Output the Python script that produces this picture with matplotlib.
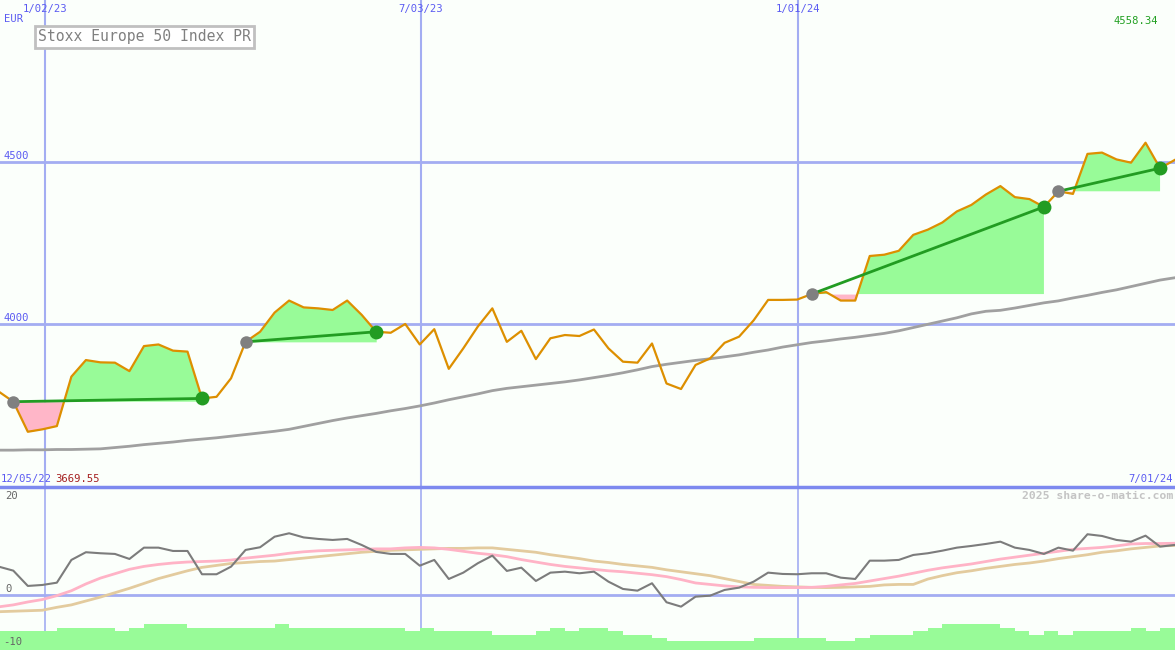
import matplotlib
matplotlib.use("Agg")
import matplotlib.pyplot as plt
from matplotlib.transforms import blended_transform_factory
import numpy as np

# weekly closes, Stoxx Europe 50 Index PR (EUR)
price = [3793, 3762, 3669.55, 3677, 3687, 3839, 3890, 3883, 3882, 3856,
         3933, 3938, 3919, 3916, 3772, 3777, 3834, 3946, 3977, 4036,
         4073, 4052, 4049, 4044, 4073, 4029, 3977, 3974, 4001, 3938,
         3985, 3863, 3926, 3993, 4049, 3946, 3980, 3893, 3957, 3967,
         3964, 3984, 3926, 3885, 3882, 3941, 3818, 3801, 3875, 3895,
         3943, 3962, 4012, 4075, 4075, 4076, 4093, 4099, 4073, 4073,
         4210, 4214, 4226, 4275, 4291, 4313, 4347, 4367, 4399, 4425,
         4391, 4385, 4361, 4409, 4401, 4524, 4528, 4507, 4497, 4558.34,
         4480, 4505]

# long moving average
ma_long = [3613, 3613, 3614, 3614, 3615, 3615, 3616, 3617, 3621, 3625,
           3630, 3634, 3638, 3643, 3647, 3651, 3656, 3661, 3666, 3671,
           3677, 3686, 3695, 3704, 3712, 3719, 3726, 3734, 3741, 3749,
           3758, 3768, 3777, 3786, 3796, 3803, 3808, 3813, 3818, 3823,
           3829, 3836, 3843, 3851, 3860, 3870, 3877, 3883, 3889, 3894,
           3900, 3906, 3914, 3921, 3930, 3937, 3944, 3949, 3955, 3960,
           3966, 3972, 3980, 3990, 4000, 4010, 4020, 4032, 4040, 4043,
           4050, 4058, 4066, 4072, 4081, 4089, 4098, 4106, 4116, 4126,
           4136, 4143]

# oscillator panel
osc = [5.75, 4.93, 1.79, 1.99, 2.46, 7.13, 8.71, 8.5, 8.36, 7.33,
       9.65, 9.65, 8.97, 8.97, 4.19, 4.19, 5.75, 9.18, 9.73, 11.9,
       12.6, 11.75, 11.44, 11.23, 11.44, 10.2, 8.77, 8.36, 8.36, 5.95,
       7.13, 3.22, 4.52, 6.45, 8.01, 4.87, 5.54, 2.81, 4.52, 4.72,
       4.39, 4.72, 2.67, 1.17, 0.82, 2.34, -1.56, -2.46, -0.41, -0.21,
       0.97, 1.44, 2.67, 4.52, 4.25, 4.19, 4.39, 4.39, 3.49, 3.22,
       6.98, 6.98, 7.13, 8.15, 8.5, 9.03, 9.65, 10.0, 10.41, 10.88,
       9.65, 9.18, 8.36, 9.65, 9.03, 12.4, 12.05, 11.23, 10.88, 12.11,
       9.86, 10.2]
osc_pink = [-2.5, -2.1, -1.5, -1.0, -0.2, 0.8, 2.2, 3.4, 4.3, 5.2,
            5.8, 6.2, 6.5, 6.7, 6.8, 6.9, 7.1, 7.5, 7.8, 8.1,
            8.5, 8.8, 9.0, 9.1, 9.2, 9.3, 9.4, 9.4, 9.6, 9.7,
            9.6, 9.3, 8.9, 8.5, 8.2, 7.8, 7.2, 6.7, 6.2, 5.8,
            5.5, 5.2, 4.9, 4.7, 4.4, 4.1, 3.7, 3.1, 2.4, 2.1,
            1.8, 1.6, 1.5, 1.45, 1.45, 1.45, 1.5, 1.7, 2.0, 2.3,
            2.8, 3.3, 3.8, 4.4, 5.0, 5.5, 5.9, 6.3, 6.8, 7.3,
            7.7, 8.1, 8.5, 8.9, 9.3, 9.5, 9.7, 10.0, 10.4, 10.5,
            10.5, 10.55]
osc_tan = [-3.5, -3.4, -3.3, -3.2, -2.6, -2.1, -1.3, -0.5, 0.4, 1.3,
           2.3, 3.3, 4.1, 4.9, 5.6, 6.0, 6.4, 6.6, 6.8, 6.9,
           7.2, 7.5, 7.8, 8.1, 8.4, 8.7, 8.9, 9.1, 9.2, 9.3,
           9.4, 9.5, 9.5, 9.6, 9.6, 9.3, 9.0, 8.7, 8.2, 7.8,
           7.4, 6.9, 6.6, 6.2, 5.9, 5.6, 5.1, 4.7, 4.3, 3.9,
           3.3, 2.7, 2.1, 1.9, 1.7, 1.6, 1.5, 1.45, 1.5, 1.6,
           1.7, 2.0, 2.1, 2.1, 3.2, 3.9, 4.5, 4.9, 5.4, 5.8,
           6.2, 6.5, 6.9, 7.4, 7.8, 8.2, 8.7, 9.0, 9.4, 9.7,
           10.0, 10.1]
# bottom histogram (top level of each weekly bar)
hist = [-7.45, -7.45, -7.45, -7.45, -6.8, -6.8, -6.8, -6.8, -7.45, -6.8,
        -6.1, -6.1, -6.1, -6.8, -6.8, -6.8, -6.8, -6.8, -6.8, -6.1,
        -6.8, -6.8, -6.8, -6.8, -6.8, -6.8, -6.8, -6.8, -7.45, -6.8,
        -7.45, -7.45, -7.45, -7.45, -8.3, -8.3, -8.3, -7.45, -6.8, -7.45,
        -6.8, -6.8, -7.45, -8.3, -8.3, -8.85, -9.5, -9.5, -9.5, -9.5,
        -9.5, -9.5, -8.85, -8.85, -8.85, -8.85, -8.85, -9.5, -9.5, -8.85,
        -8.3, -8.3, -8.3, -7.45, -6.8, -6.1, -6.1, -6.1, -6.1, -6.8,
        -7.45, -8.3, -7.45, -8.3, -7.45, -7.45, -7.45, -7.45, -6.8, -7.45,
        -6.8, -6.8]

# trades: (entry week, exit week)
trades = [(1, 14), (17, 26), (56, 72), (73, 80)]

date_labels = ["1/02/23", "7/03/23", "1/01/24"]
date_pos = [3.18, 29.09, 55.06]
title = "Stoxx Europe 50 Index PR"

BG = "#fbfffb"
BLUE_TXT = "#5b5bf2"
GRID = "#a3adf2"
ORANGE = "#dd8f00"
W, H = 1175, 650
FS = 7.6

x = np.arange(len(price))
p = np.array(price)

fig = plt.figure(figsize=(W / 100, H / 100), dpi=100, facecolor=BG)
ax = fig.add_axes([0, 163 / H, 1, 487 / H], facecolor=BG)
ax2 = fig.add_axes([0, 0, 1, 163 / H], facecolor=BG)
xlim = (0.083, 81.03)

# ---- main panel
for a in (ax, ax2):
    a.set_xlim(*xlim)
    for s in a.spines.values():
        s.set_visible(False)
    a.set_xticks([])
    a.set_yticks([])

ax.set_ylim(3499.7, 4997.2)
for v in (4000, 4500):
    ax.axhline(v, color=GRID, lw=2, zorder=1)
for d in date_pos:
    ax.axvline(d, color=GRID, lw=1.5, zorder=1)

for i0, i1 in trades:
    xs = x[i0:i1 + 1]
    ys = p[i0:i1 + 1]
    base = p[i0]
    ax.fill_between(xs, base, ys, where=ys >= base, interpolate=True,
                    color="#98fb98", lw=0, zorder=2)
    ax.fill_between(xs, base, ys, where=ys < base, interpolate=True,
                    color="#ffb6c8", lw=0, zorder=2)

ax.plot(x, ma_long, color="#a0a0a0", lw=2, zorder=3)
ax.plot(x, p, color=ORANGE, lw=1.6, zorder=4)
for i0, i1 in trades:
    ax.plot([x[i0], x[i1]], [p[i0], p[i1]], color="#229c22", lw=2, zorder=5)
    ax.plot(x[i0], p[i0], "o", color="#808080", ms=9, mec="none", zorder=6)
    ax.plot(x[i1], p[i1], "o", color="#229c22", ms=10, mec="none", zorder=6)

tr = blended_transform_factory(ax.transData, ax.transAxes)
for lab, d in zip(date_labels, date_pos):
    ax.text(d, 1 - 9 / 487, lab, transform=tr, ha="center", va="center",
            family="DejaVu Sans Mono", fontsize=FS, color=BLUE_TXT)

# ---- lower panel
ax2.set_ylim(-11.36, 22.1)
for d in date_pos:
    ax2.axvline(d, color=GRID, lw=1.2, zorder=1)
ax2.axhline(0, color=GRID, lw=2, zorder=1)
ax2.plot(x, osc_tan, color="#e3cb9e", lw=2, zorder=3)
ax2.plot(x, osc_pink, color="#ffb3c6", lw=2, zorder=3)
ax2.plot(x, osc, color="#7c7c7c", lw=1.5, zorder=4)
ax2.fill_between(x, -20, hist, step="post", color="#98fb98", lw=0, zorder=5)
ax2.axhline(22.1, color="#7d89ef", lw=2.5, zorder=6, clip_on=False)


def ftext(px, py, s, **kw):
    kw.setdefault("family", "DejaVu Sans Mono")
    kw.setdefault("fontsize", FS)
    kw.setdefault("va", "center")
    fig.text(px / W, 1 - py / H, s, **kw)


ftext(4, 19, "EUR", color=BLUE_TXT)
ftext(1158, 21, "4558.34", color="#22a022", ha="right")
ftext(4, 156, "4500", color=BLUE_TXT)
ftext(4, 318, "4000", color=BLUE_TXT)
ftext(1, 479, "12/05/22", color=BLUE_TXT)
ftext(55, 479, "3669.55", color="#a52020")
ftext(1173, 479, "7/01/24", color=BLUE_TXT, ha="right")
ftext(1173, 496, "2025 share-o-matic.com", color="#c4c4c4", ha="right",
      fontsize=8.2, fontweight="bold")
ftext(5, 496, "20", color="#666666")
ftext(5, 589, "0", color="#666666")
ftext(3, 642, "-10", color="#666666")
ftext(38, 37, title, color="#808080", fontsize=10.6,
      bbox=dict(boxstyle="square,pad=0.22", fc="white", ec="#c0c0c0", lw=2))

fig.savefig("out.png", dpi=100, facecolor=BG)
